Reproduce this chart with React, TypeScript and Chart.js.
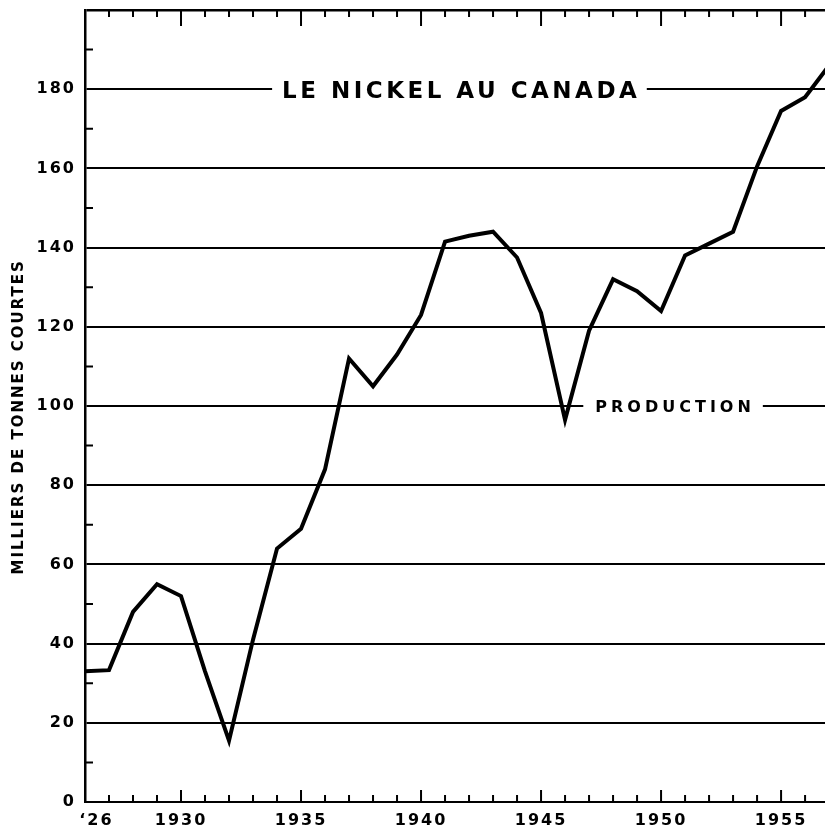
import React, { useEffect, useRef } from "react";
import { Chart, registerables } from "chart.js";

Chart.register(...registerables);

// ---- data (thousands of short tons) ----
const years = [
  1926, 1927, 1928, 1929, 1930, 1931, 1932, 1933, 1934, 1935, 1936, 1937, 1938, 1939, 1940, 1941,
  1942, 1943, 1944, 1945, 1946, 1947, 1948, 1949, 1950, 1951, 1952, 1953, 1954, 1955, 1956, 1957,
];
const production = [
  33, 33.3, 48, 55, 52, 33, 15.5, 41, 64, 69, 84, 112, 105, 113, 123, 141.5,
  143, 144, 137.5, 123.5, 96.5, 119, 132, 129, 124, 138, 141, 144, 160.5, 174.5, 178, 186,
];
const yTickValues = [0, 20, 40, 60, 80, 100, 120, 140, 160, 180];
const xLabelYears = [1926, 1930, 1935, 1940, 1945, 1950, 1955];
const firstYearLabel = "   \u201826";
const chartTitle = "LE NICKEL AU CANADA";
const seriesLabel = "PRODUCTION";
const yAxisTitle = "MILLIERS DE TONNES COURTES   ";

const FONT = "'DejaVu Sans', sans-serif";

const notes = [
  { text: chartTitle, x: 1941.6, y: 180, size: 23, spacing: 3.5, gap: 10 },
  { text: seriesLabel, x: 1950.5, y: 100, size: 16, spacing: 4, gap: 12 },
];

const framePlugin = {
  id: "frame",
  beforeDraw(chart: any) {
    chart.ctx.letterSpacing = "2px";
  },
  beforeDatasetsDraw(chart: any) {
    const { ctx, chartArea: a } = chart;
    const x = chart.scales.x;
    const y = chart.scales.y;
    ctx.save();
    ctx.letterSpacing = "0px";
    ctx.strokeStyle = "#000";
    ctx.lineWidth = 2;
    ctx.beginPath();
    for (let v = 10; v < 200; v += 20) {
      const py = y.getPixelForValue(v);
      ctx.moveTo(a.left, py);
      ctx.lineTo(a.left + 8, py);
    }
    for (let yr = years[0] + 1; yr <= 1956; yr++) {
      const px = x.getPixelForValue(yr);
      const major = yr % 5 === 0;
      ctx.moveTo(px, a.bottom);
      ctx.lineTo(px, a.bottom - (major ? 12 : 7));
      ctx.moveTo(px, a.top);
      ctx.lineTo(px, a.top + (major ? 16 : 7));
    }
    ctx.stroke();

    for (const n of notes) {
      ctx.font = `bold ${n.size}px ${FONT}`;
      ctx.letterSpacing = `${n.spacing}px`;
      const w = ctx.measureText(n.text).width - n.spacing;
      const cx = x.getPixelForValue(n.x);
      const cy = y.getPixelForValue(n.y);
      ctx.fillStyle = "#fff";
      ctx.fillRect(cx - w / 2 - n.gap, cy - 4, w + 2 * n.gap, 8);
      ctx.fillStyle = "#000";
      ctx.textAlign = "left";
      ctx.textBaseline = "alphabetic";
      ctx.fillText(n.text, cx - w / 2, cy + 0.3645 * n.size);
    }
    ctx.restore();
  },
  afterDraw(chart: any) {
    chart.ctx.letterSpacing = "0px";
  },
};

export default function App() {
  const ref = useRef<HTMLCanvasElement | null>(null);

  useEffect(() => {
    document.body.style.margin = "0";
    const canvas = ref.current;
    if (!canvas) return;
    const chart = new Chart(canvas, {
      type: "line",
      data: {
        datasets: [
          {
            label: seriesLabel,
            data: years.map((yr, i) => ({ x: yr, y: production[i] })),
            borderColor: "#000",
            borderWidth: 4,
            pointRadius: 0,
            tension: 0,
            fill: false,
            borderJoinStyle: "miter",
          },
        ],
      },
      options: {
        responsive: false,
        animation: false,
        events: [],
        layout: { padding: { top: 10, right: 0, left: 0, bottom: 0 } },
        plugins: { legend: { display: false }, tooltip: { enabled: false }, title: { display: false } },
        scales: {
          x: {
            type: "linear",
            min: 1926,
            max: 1956.83,
            grid: { display: false, drawTicks: false },
            border: { display: true, color: "#000", width: 2 },
            ticks: {
              stepSize: 1,
              autoSkip: false,
              maxRotation: 0,
              minRotation: 0,
              includeBounds: false,
              padding: 9,
              color: "#000",
              font: { family: FONT, size: 16, weight: "bold" },
              callback: (v: any) => {
                const n = Number(v);
                if (!xLabelYears.includes(n)) return "";
                if (n === years[0]) return firstYearLabel;
                return String(n);
              },
            },
            afterFit: (s: any) => {
              s.height = 27;
              s.paddingLeft = 0;
              s.paddingRight = 0;
            },
          },
          y: {
            min: 0,
            max: 200,
            grid: {
              drawTicks: false,
              color: (c: any) => (c.tick && c.tick.value % 20 === 0 ? "#000" : "rgba(0,0,0,0)"),
              lineWidth: (c: any) => (c.tick && c.tick.value === 200 ? 2.5 : 2),
            },
            border: { display: true, color: "#000", width: 2.5 },
            ticks: {
              stepSize: 10,
              autoSkip: false,
              padding: 9,
              color: "#000",
              font: { family: FONT, size: 16, weight: "bold" },
              callback: (v: any) => (yTickValues.includes(Number(v)) ? String(v) : ""),
            },
            title: {
              display: true,
              text: yAxisTitle,
              color: "#000",
              font: { family: FONT, size: 15, weight: "bold", lineHeight: 1 },
              padding: { top: 12, bottom: 0 },
            },
            afterFit: (s: any) => {
              s.width = 85;
              s.paddingTop = 0;
              s.paddingBottom = 0;
            },
          },
        },
      },
      plugins: [framePlugin],
    } as any);
    return () => chart.destroy();
  }, []);

  return (
    <div style={{ width: 825, height: 829 }}>
      <canvas ref={ref} width={825} height={829} style={{ display: "block" }} />
    </div>
  );
}
